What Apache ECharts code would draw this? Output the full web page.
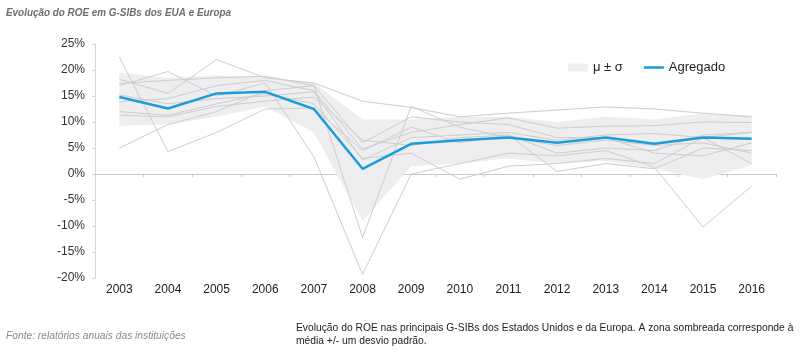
<!DOCTYPE html>
<html>
<head>
<meta charset="utf-8">
<script src="https://cdn.jsdelivr.net/npm/echarts@6/dist/echarts.min.js"></script>
<style>
  html, body { margin: 0; padding: 0; background: #fff; }
  #chart { width: 812px; height: 352px; }
</style>
</head>
<body>
<div id="chart"></div>
<script>
// anos
var years = ['2003', '2004', '2005', '2006', '2007', '2008', '2009', '2010', '2011', '2012', '2013', '2014', '2015', '2016'];
var yTicks = [-20, -15, -10, -5, 0, 5, 10, 15, 20, 25];

// ROE agregado (%)
var agregado = [14.8, 12.6, 15.5, 15.8, 12.5, 1.0, 5.8, 6.5, 7.0, 6.0, 7.0, 5.8, 7.0, 6.8];

// zona sombreada: media -/+ desvio padrao
var bandLow = [9.3, 9.5, 11.0, 13.0, 8.0, -9.0, 1.5, 2.0, 3.0, 2.0, 2.5, 1.0, -1.0, 1.7];
var bandHigh = [19.5, 18.5, 19.0, 18.7, 17.5, 10.5, 10.5, 11.0, 11.0, 10.0, 11.0, 10.5, 11.7, 11.2];

// bancos individuais (%)
var bank1 = [22.5, 4.3, 8.0, 12.5, 12.7, 4.5, 9.0, 6.0, 7.5, 4.0, 5.0, 4.5, 7.5, 8.0];
var bank2 = [5.0, 9.5, 12.0, 16.0, 17.0, -12.2, 13.0, 9.0, 7.0, 5.5, 6.5, 5.5, 6.0, 4.0];
var bank3 = [17.0, 19.7, 15.0, 17.5, 3.3, -19.3, 0.0, 2.0, 4.0, 3.5, 4.5, 1.3, -10.2, -2.3];
var bank4 = [18.2, 15.5, 22.0, 18.5, 17.5, 14.0, 12.8, 11.0, 11.7, 12.3, 12.9, 12.5, 11.7, 11.0];
var bank5 = [13.9, 14.5, 17.0, 18.0, 16.0, 4.8, 8.0, 9.5, 10.8, 8.8, 9.2, 9.3, 10.0, 9.9];
var bank6 = [12.0, 11.3, 13.5, 15.5, 13.5, 3.0, 4.0, -1.0, 1.5, 2.0, 3.0, 2.0, 7.0, 2.0];
var bank7 = [15.2, 13.5, 14.5, 15.0, 15.8, 2.7, 7.0, 7.5, 8.0, 6.5, 7.5, 7.8, 7.0, 8.0];
var bank8 = [11.3, 11.0, 13.0, 14.0, 14.8, 6.5, 5.5, 7.0, 7.5, 0.5, 2.0, 1.0, 5.0, 4.5];
var bank9 = [17.4, 18.0, 18.5, 18.8, 17.0, 6.0, 11.0, 10.0, 9.5, 7.0, 7.0, 4.0, 3.5, 6.0];

var banks = [bank1, bank2, bank3, bank4, bank5, bank6, bank7, bank8, bank9];

var chart = echarts.init(document.getElementById('chart'), null, { renderer: 'canvas' });

var bandDiff = bandHigh.map(function (v, i) { return +(v - bandLow[i]).toFixed(2); });

var series = [{
  name: 'base',
  type: 'line',
  data: bandLow,
  stack: 'band',
  stackStrategy: 'all',
  symbol: 'none',
  lineStyle: { width: 0, opacity: 0 },
  silent: true,
  z: 1
}, {
  name: 'μ ± σ',
  type: 'line',
  data: bandDiff,
  stack: 'band',
  stackStrategy: 'all',
  symbol: 'none',
  lineStyle: { width: 0, opacity: 0 },
  areaStyle: { color: '#eeeef1', opacity: 1 },
  itemStyle: { color: '#eeeef1' },
  silent: true,
  z: 1
}];

banks.forEach(function (b, i) {
  series.push({
    name: 'banco' + (i + 1),
    type: 'line',
    data: b,
    symbol: 'none',
    lineStyle: { color: '#cdcdcd', width: 1 },
    silent: true,
    z: 2
  });
});

series.push({
  name: 'Agregado',
  type: 'line',
  data: agregado,
  symbol: 'none',
  lineStyle: { color: '#1b9dd9', width: 2.5 },
  itemStyle: { color: '#1b9dd9' },
  z: 5
});

var option = {
  animation: false,
  backgroundColor: '#fff',
  textStyle: { fontFamily: 'Liberation Sans, Arial, sans-serif' },
  legend: {
    left: 563,
    top: 56,
    itemWidth: 20,
    itemHeight: 8,
    itemGap: 21,
    symbolKeepAspect: true,
    textStyle: { fontSize: 13, color: '#222' },
    data: [
      { name: 'μ ± σ', icon: 'rect', itemStyle: { color: '#eeeef1' } },
      { name: 'Agregado', icon: 'path://M0,0 L20,0 L20,2.5 L0,2.5 Z', itemStyle: { color: '#1b9dd9' } }
    ]
  },
  grid: { left: 95, right: 36, top: 44, bottom: 74, containLabel: false, outerBoundsMode: 'none' },
  xAxis: [{
    // rotulos dos anos, em baixo
    type: 'category',
    data: years,
    position: 'bottom',
    boundaryGap: true,
    axisLine: { show: false, onZero: false },
    axisTick: { show: false },
    axisLabel: { margin: 6, fontSize: 12, color: '#222' }
  }, {
    // linha do zero com marcas
    type: 'category',
    data: years,
    position: 'top',
    boundaryGap: true,
    axisLine: { show: true, onZero: true, lineStyle: { color: '#c8c8c8', width: 1 } },
    axisTick: { show: true, inside: true, length: 3, lineStyle: { color: '#c8c8c8' } },
    axisLabel: { show: false }
  }],
  yAxis: {
    type: 'value',
    min: -20,
    max: 25,
    interval: 5,
    axisLine: { show: true, lineStyle: { color: '#d6d6d6' } },
    axisTick: { show: true, length: 3, lineStyle: { color: '#d6d6d6' } },
    splitLine: { show: false },
    axisLabel: {
      fontSize: 12,
      color: '#333',
      margin: 10,
      formatter: function (v) { return yTicks.indexOf(v) >= 0 ? v + '%' : ''; }
    }
  },
  graphic: [{
    type: 'text',
    x: 6,
    y: 13,
    scaleX: 0.9,
    style: {
      text: 'Evolução do ROE em G-SIBs dos EUA e Europa',
      font: 'italic bold 11px Liberation Sans, sans-serif',
      fill: '#6e6e6e',
      textVerticalAlign: 'middle'
    }
  }, {
    type: 'text',
    x: 6,
    y: 336,
    scaleX: 0.93,
    style: {
      text: 'Fonte: relatórios anuais das instituições',
      font: 'italic 11px Liberation Sans, sans-serif',
      fill: '#8a8a8a',
      textVerticalAlign: 'middle'
    }
  }, {
    type: 'text',
    x: 296,
    y: 321,
    scaleX: 0.935,
    style: {
      text: 'Evolução do ROE nas principais G-SIBs dos Estados Unidos e da Europa. A zona sombreada corresponde à\nmédia +/- um desvio padrão.',
      font: '11px Liberation Sans, sans-serif',
      lineHeight: 13,
      fill: '#222'
    }
  }],
  series: series
};

chart.setOption(option);
</script>
</body>
</html>
